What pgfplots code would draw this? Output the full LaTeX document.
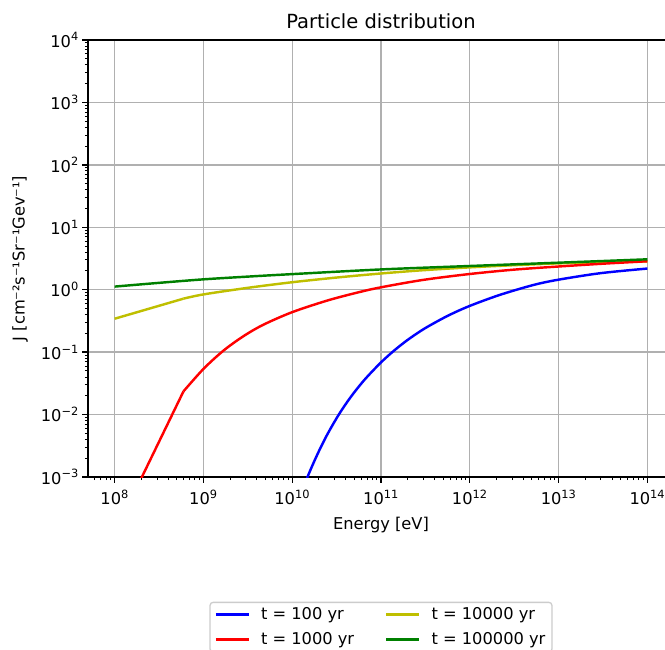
\documentclass[border=0pt]{standalone}
\usepackage{fontspec}
\setmainfont{DejaVu Sans}
\usepackage{pgfplots}
\pgfplotsset{compat=1.18}
\definecolor{mplb}{rgb}{0,0,1}
\definecolor{mplr}{rgb}{1,0,0}
\definecolor{mply}{rgb}{0.75,0.75,0}
\definecolor{mplg}{rgb}{0,0.5,0}
\definecolor{gridc}{HTML}{B0B0B0}
\newcommand{\sz}{\fontsize{16.25}{19}\selectfont}
\newcommand{\tsz}{\fontsize{19.5}{23}\selectfont}
\newcommand{\tl}[1]{10\textsuperscript{#1}}
\begin{document}
\begin{tikzpicture}
\begin{axis}[
  at={(0,0)}, anchor=south west,
  scale only axis, width=586pt, height=437pt,
  xmode=log, ymode=log,
  xmin=5.0119e7, xmax=1.9953e14,
  ymin=1e-3, ymax=1e4,
  xtick={1e8,1e9,1e10,1e11,1e12,1e13,1e14},
  xticklabels={\tl{8},\tl{9},\tl{10},\tl{11},\tl{12},\tl{13},\tl{14}},
  ytick={1e-3,1e-2,1e-1,1e0,1e1,1e2,1e3,1e4},
  yticklabels={\tl{−3},\tl{−2},\tl{−1},\tl{0},\tl{1},\tl{2},\tl{3},\tl{4}},
  minor xtick={6e7,7e7,8e7,9e7,
    2e8,3e8,4e8,5e8,6e8,7e8,8e8,9e8,
    2e9,3e9,4e9,5e9,6e9,7e9,8e9,9e9,
    2e10,3e10,4e10,5e10,6e10,7e10,8e10,9e10,
    2e11,3e11,4e11,5e11,6e11,7e11,8e11,9e11,
    2e12,3e12,4e12,5e12,6e12,7e12,8e12,9e12,
    2e13,3e13,4e13,5e13,6e13,7e13,8e13,9e13},
  minor ytick={2e-3,3e-3,4e-3,5e-3,6e-3,7e-3,8e-3,9e-3,
    2e-2,3e-2,4e-2,5e-2,6e-2,7e-2,8e-2,9e-2,
    2e-1,3e-1,4e-1,5e-1,6e-1,7e-1,8e-1,9e-1,
    2,3,4,5,6,7,8,9,
    20,30,40,50,60,70,80,90,
    200,300,400,500,600,700,800,900,
    2000,3000,4000,5000,6000,7000,8000,9000},
  tick align=outside,
  xtick pos=left, ytick pos=left,
  major tick length=5.7pt, minor tick length=3.25pt,
  every major tick/.style={black, line width=1.3pt},
  every minor tick/.style={black, line width=0.95pt},
  grid=major,
  major grid style={gridc, line width=1.3pt},
  axis line style={line width=1.3pt},
  tick label style={font=\sz},
  xticklabel style={yshift=-4pt},
  title={Particle distribution},
  title style={font=\tsz, at={(axis description cs:0.5,1.013)}, anchor=base},
  xlabel={Energy [eV]},
  xlabel style={font=\sz, at={(axis description cs:0.5,-0.11)}, anchor=center},
  ylabel={J [cm⁻²s⁻¹Sr⁻¹Gev⁻¹]},
  ylabel style={font=\sz, at={(axis description cs:-0.116,0.5)}, anchor=center},
  legend columns=2,
  legend cell align=left,
  legend image code/.code={\draw[#1, line width=2.44pt] (0pt,0pt) -- (33pt,0pt);},
  legend style={at={(axis description cs:0.5,-0.2854)}, anchor=north,
    draw=black!20, rounded corners=3pt, line width=1.3pt, font=\sz,
    inner xsep=4.5pt, inner ysep=3.5pt, row sep=7.5pt,
    /tikz/every odd column/.append style={column sep=9pt},
    /tikz/every even column/.append style={column sep=29pt}},
]
\addplot[mplb, line width=2.44pt, smooth] coordinates {
  (1e10,2.399e-4) (1.489e10,1.007e-3) (1.932e10,2.344e-3) (2.5e10,4.887e-3)
  (3.388e10,0.01028) (4.592e10,0.01936) (6.486e10,0.03581) (1e11,0.06855)
  (1.413e11,0.1067) (2.0e11,0.1574) (3.083e11,0.2382) (5.623e11,0.381)
  (1e12,0.5508) (2.188e12,0.8279) (5.212e12,1.191) (1e13,1.449)
  (2.985e13,1.843) (1e14,2.183)};
\addlegendentry{t = 100 yr}
\addplot[mply, line width=2.44pt, forget plot] coordinates {
  (1e8,0.343) (5.957e8,0.719)};
\addplot[mply, line width=2.44pt, smooth] coordinates {
  (5.957e8,0.719) (1e9,0.841) (3.162e9,1.072) (1e10,1.318)
  (3.162e10,1.567) (1e11,1.820) (3.162e11,2.065) (1e12,2.280)
  (3.162e12,2.472) (1e13,2.642) (3.162e13,2.754) (1e14,2.851)};
\addlegendentry{t = 10000 yr}
\addplot[mplr, line width=2.44pt, forget plot] coordinates {
  (1e8,1.259e-4) (5.957e8,0.0235)};
\addplot[mplr, line width=2.44pt, smooth] coordinates {
  (5.957e8,0.0235) (1e9,0.05383) (1.679e9,0.1056) (2.812e9,0.1795)
  (4.721e9,0.2745) (1e10,0.4371) (2.512e10,0.6740) (5.623e10,0.9118)
  (1e11,1.093) (2.979e11,1.436) (1e12,1.786) (3.162e12,2.098)
  (1e13,2.354) (3.162e13,2.611) (1e14,2.856)};
\addlegendentry{t = 1000 yr}
\addplot[mplg, line width=2.44pt, smooth] coordinates {
  (1e8,1.122) (3.162e8,1.288) (1e9,1.466) (3.162e9,1.622) (1e10,1.778)
  (1e11,2.113) (1e12,2.399) (1e13,2.710) (1e14,3.069)};
\addlegendentry{t = 100000 yr}
\end{axis}
\pgfresetboundingbox
\useasboundingbox (-88pt,-173pt) rectangle (577pt,477pt);
\end{tikzpicture}
\end{document}
